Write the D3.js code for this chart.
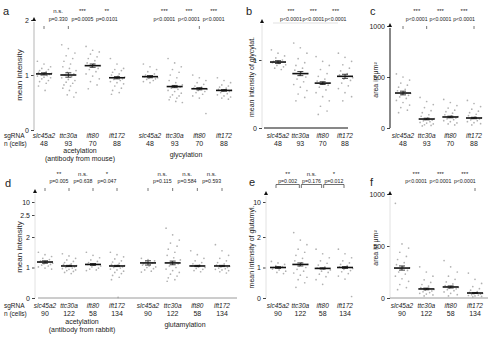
<!DOCTYPE html>
<html>
<head>
<meta charset="utf-8">
<script src="https://cdn.jsdelivr.net/npm/d3@7"></script>
<style>
  body { margin: 0; background: #fff; }
  text { font-family: "Liberation Sans", Arial, sans-serif; fill: #222; }
</style>
</head>
<body>
<div id="fig"></div>
<script>
// ---- data ----
var genes = ['slc45a2', 'ttc30a', 'ift80', 'ift172'];
var nTop = [48, 93, 70, 88];
var nBottom = [90, 122, 58, 134];

// a: acetylation (mouse antibody) and glycylation, mean intensity
var aAcetMeans = [1.02, 1.0, 1.17, 0.95];
var aAcetSem = [0.02, 0.04, 0.03, 0.02];
var aAcetPoints = [
  [1.25, 1.2, 1.15, 1.12, 1.1, 1.08, 1.06, 1.05, 1.04, 1.03, 1.02, 1.01, 1.0, 0.99, 0.98, 0.96, 0.95, 0.93, 0.9, 0.88, 0.85, 0.8, 0.72],
  [1.55, 1.48, 1.4, 1.35, 1.3, 1.25, 1.2, 1.15, 1.12, 1.08, 1.05, 1.02, 1.0, 0.97, 0.95, 0.92, 0.9, 0.87, 0.85, 0.82, 0.8, 0.76, 0.72, 0.68, 0.64, 0.6],
  [1.52, 1.45, 1.42, 1.38, 1.33, 1.3, 1.26, 1.22, 1.2, 1.17, 1.15, 1.12, 1.1, 1.06, 1.02, 0.98, 0.93, 0.88, 0.82, 0.75],
  [1.3, 1.2, 1.12, 1.1, 1.08, 1.05, 1.02, 1.0, 0.98, 0.96, 0.95, 0.93, 0.92, 0.9, 0.88, 0.86, 0.84, 0.8, 0.76, 0.72, 0.68, 0.65]
];
var aGlyMeans = [0.97, 0.79, 0.75, 0.72];
var aGlySem = [0.02, 0.02, 0.02, 0.015];
var aGlyPoints = [
  [1.2, 1.15, 1.1, 1.06, 1.02, 1.0, 0.98, 0.97, 0.96, 0.95, 0.94, 0.93, 0.92, 0.9, 0.88, 0.86],
  [1.3, 1.22, 1.15, 1.1, 1.05, 1.0, 0.95, 0.9, 0.86, 0.82, 0.8, 0.78, 0.76, 0.74, 0.72, 0.7, 0.67, 0.64, 0.62, 0.6, 0.58, 0.55, 0.52, 0.5],
  [1.0, 0.95, 0.9, 0.86, 0.83, 0.8, 0.78, 0.76, 0.75, 0.74, 0.72, 0.7, 0.68, 0.65, 0.62, 0.58, 0.3],
  [0.95, 0.9, 0.86, 0.82, 0.8, 0.78, 0.76, 0.74, 0.73, 0.72, 0.71, 0.7, 0.68, 0.66, 0.64, 0.62, 0.6, 0.58, 0.56]
];
var aAcetStars = ['n.s.', '***', '**'];
var aAcetP = ['p=0.330', 'p=0.0005', 'p=0.0101'];
var aGlyStars = ['***', '***', '***'];
var aGlyP = ['p<0.0001', 'p<0.0001', 'p<0.0001'];

// b: mean intensity of glycylation
var bMeans = [0.97, 0.8, 0.66, 0.76];
var bSem = [0.02, 0.03, 0.02, 0.03];
var bPoints = [
  [1.15, 1.1, 1.06, 1.03, 1.0, 0.98, 0.97, 0.96, 0.95, 0.93, 0.92, 0.9, 0.88, 0.86],
  [1.25, 1.18, 1.1, 1.02, 0.96, 0.92, 0.88, 0.85, 0.82, 0.8, 0.78, 0.75, 0.72, 0.68, 0.64, 0.6, 0.55, 0.5, 0.45, 0.4],
  [1.05, 0.98, 0.92, 0.86, 0.8, 0.76, 0.72, 0.69, 0.67, 0.66, 0.65, 0.63, 0.6, 0.56, 0.52, 0.46, 0.4, 0.32, 0.25, 0.2],
  [1.1, 1.04, 0.98, 0.93, 0.88, 0.84, 0.8, 0.78, 0.76, 0.74, 0.72, 0.7, 0.66, 0.62, 0.58, 0.52, 0.46, 0.4]
];
var bStars = ['***', '***', '***'];
var bP = ['p<0.0001', 'p<0.0001', 'p<0.0001'];

// c: cilia area in um^2
var cMeans = [343, 88, 108, 98];
var cSem = [18, 8, 8, 7];
var cPoints = [
  [530, 500, 470, 440, 420, 400, 380, 365, 350, 340, 330, 320, 305, 290, 270, 250, 225, 200, 175, 150],
  [300, 260, 230, 200, 170, 150, 130, 115, 100, 92, 85, 78, 70, 62, 55, 48, 40, 32, 25, 20],
  [280, 250, 220, 195, 175, 160, 145, 130, 120, 112, 105, 98, 90, 82, 72, 62, 50, 40, 30],
  [270, 240, 210, 185, 165, 150, 135, 122, 110, 100, 95, 88, 80, 72, 62, 52, 42, 30]
];
var cStars = ['***', '***', '***'];
var cP = ['p<0.0001', 'p<0.0001', 'p<0.0001'];

// d: acetylation (rabbit antibody) and glutamylation, mean intensity
var dAcetMeans = [1.18, 1.05, 1.1, 1.05];
var dAcetSem = [0.04, 0.02, 0.03, 0.02];
var dAcetPoints = [
  [1.5, 1.42, 1.36, 1.3, 1.26, 1.22, 1.2, 1.18, 1.16, 1.14, 1.12, 1.1, 1.08, 1.05, 1.02, 0.98, 0.95],
  [1.45, 1.38, 1.3, 1.25, 1.2, 1.16, 1.12, 1.1, 1.08, 1.06, 1.04, 1.02, 1.0, 0.98, 0.96, 0.94, 0.92, 0.9, 0.87, 0.84, 0.8],
  [1.5, 1.4, 1.32, 1.25, 1.2, 1.16, 1.12, 1.1, 1.08, 1.05, 1.02, 0.98, 0.95, 0.92, 0.9],
  [1.5, 1.42, 1.35, 1.28, 1.22, 1.18, 1.14, 1.1, 1.08, 1.06, 1.04, 1.02, 1.0, 0.98, 0.95, 0.92, 0.88, 0.84, 0.8, 0.74, 0.68, 0.6, 0.02]
];
var dGluMeans = [1.15, 1.15, 1.05, 1.05];
var dGluSem = [0.07, 0.06, 0.02, 0.02];
var dGluPoints = [
  [1.3, 1.26, 1.22, 1.18, 1.15, 1.12, 1.1, 1.08, 1.05, 1.02, 1.0, 0.96, 0.92, 0.88, 0.85],
  [2.2, 2.05, 1.9, 1.8, 1.7, 1.6, 1.5, 1.4, 1.32, 1.25, 1.18, 1.12, 1.05, 1.0, 0.95, 0.9, 0.84, 0.78, 0.72, 0.66, 0.6, 0.55],
  [1.55, 1.42, 1.3, 1.22, 1.16, 1.12, 1.08, 1.05, 1.02, 1.0, 0.97, 0.94, 0.9, 0.86],
  [1.75, 1.55, 1.4, 1.3, 1.22, 1.16, 1.12, 1.08, 1.06, 1.04, 1.02, 1.0, 0.98, 0.96, 0.94, 0.92, 0.9, 0.86, 0.82]
];
var dAcetStars = ['**', 'n.s.', '*'];
var dAcetP = ['p=0.005', 'p=0.638', 'p=0.047'];
var dGluStars = ['n.s.', 'n.s.', 'n.s.'];
var dGluP = ['p=0.115', 'p=0.584', 'p=0.593'];

// e: mean intensity of glutamylation
var eMeans = [1.0, 1.1, 0.97, 1.0];
var eSem = [0.03, 0.05, 0.02, 0.03];
var ePoints = [
  [1.2, 1.15, 1.1, 1.06, 1.03, 1.0, 0.98, 0.95, 0.92, 0.88, 0.84, 0.8],
  [2.1, 1.9, 1.75, 1.6, 1.5, 1.4, 1.3, 1.22, 1.15, 1.1, 1.05, 1.0, 0.94, 0.88, 0.82, 0.75, 0.68, 0.6, 0.5, 0.35],
  [1.6, 1.45, 1.32, 1.22, 1.14, 1.08, 1.02, 0.98, 0.95, 0.92, 0.88, 0.84, 0.78, 0.7, 0.6, 0.45],
  [1.6, 1.45, 1.32, 1.22, 1.15, 1.1, 1.06, 1.02, 1.0, 0.97, 0.94, 0.9, 0.86, 0.8, 0.72, 0.62, 0.05]
];
var eStars = ['**', 'n.s.', '*'];
var eP = ['p=0.002', 'p=0.176', 'p=0.012'];

// f: cilia area in um^2
var fMeans = [288, 87, 106, 48];
var fSem = [20, 8, 10, 5];
var fPoints = [
  [910, 520, 480, 440, 400, 370, 340, 320, 300, 290, 280, 265, 250, 230, 210, 185, 160, 130, 100, 80],
  [300, 250, 210, 175, 150, 130, 115, 100, 90, 82, 75, 68, 60, 52, 45, 38, 30, 20],
  [360, 300, 250, 210, 180, 155, 135, 120, 110, 102, 95, 88, 80, 70, 58, 45, 32, 20],
  [240, 180, 140, 110, 90, 75, 62, 55, 50, 45, 40, 36, 32, 28, 24, 20, 15, 10]
];
var fStars = ['***', '***', '***'];
var fP = ['p<0.0001', 'p<0.0001', 'p<0.0001'];

// ---- drawing ----
var svg = d3.select('#fig')
  .append('svg')
  .attr('width', 500)
  .attr('height', 339);

var fmt = d3.format('');

function yAxis(axisX, y, ticks, top, lineColor) {
  var g = svg.append('g').attr('transform', 'translate(' + axisX + ',0)');
  var ax = g.call(d3.axisLeft(y).tickValues(ticks).tickSize(3).tickPadding(2).tickFormat(fmt));
  ax.select('.domain').remove();
  ax.selectAll('.tick line').attr('stroke', '#444');
  ax.selectAll('.tick text').attr('font-size', 7).attr('fill', '#222')
    .style('font-family', '"Liberation Sans", Arial, sans-serif');
  if (lineColor) {
    g.append('line')
      .attr('x1', 0).attr('x2', 0)
      .attr('y1', top + 2).attr('y2', y(0))
      .attr('stroke', lineColor).attr('stroke-width', 1);
  }
  // arrow head on top of the axis
  g.append('path')
    .attr('d', 'M0,' + (top - 3) + 'L-2,' + (top + 1) + 'L2,' + (top + 1) + 'Z')
    .attr('fill', '#111');
}

function yLabel(x, yMid, txt, size) {
  svg.append('text')
    .attr('transform', 'translate(' + x + ',' + yMid + ') rotate(-90)')
    .attr('text-anchor', 'middle')
    .attr('font-size', size || 7)
    .text(txt);
}

function dots(x, y, points) {
  points.forEach(function(vals, gi) {
    svg.append('g').selectAll('circle')
      .data(vals)
      .enter().append('circle')
      .attr('cx', function(d, i) {
        return x(genes[gi]) + ((i * 3) % 7 - 3) * 2.2 + (Math.floor(i / 7) % 2) * 1.1;
      })
      .attr('cy', function(d) { return y(d); })
      .attr('r', 0.85)
      .attr('fill', '#a3a3a3')
      .attr('opacity', 0.85);
  });
}

function meanBars(x, y, means, sem) {
  var g = svg.append('g').attr('stroke', '#111');
  means.forEach(function(m, i) {
    var cx = x(genes[i]);
    g.append('line')
      .attr('x1', cx).attr('x2', cx)
      .attr('y1', y(m - sem[i])).attr('y2', y(m + sem[i]))
      .attr('stroke-width', 0.8);
    [m - sem[i], m + sem[i]].forEach(function(v) {
      g.append('line')
        .attr('x1', cx - 3).attr('x2', cx + 3)
        .attr('y1', y(v)).attr('y2', y(v))
        .attr('stroke-width', 0.8);
    });
    g.append('line')
      .attr('x1', cx - 8).attr('x2', cx + 8)
      .attr('y1', y(m)).attr('y2', y(m))
      .attr('stroke-width', 1.6);
  });
}

function stats(x, stars, pvals, starY, pY) {
  var step = x.step();
  stars.forEach(function(s, i) {
    var cx = x(genes[i + 1]) - step * 0.42;
    svg.append('text').attr('x', cx).attr('y', starY)
      .attr('text-anchor', 'middle').attr('font-size', 6).text(s);
    svg.append('text').attr('x', cx).attr('y', pY)
      .attr('text-anchor', 'middle').attr('font-size', 5.2).text(pvals[i]);
  });
}

function ticksAt(x, which, y0) {
  which.forEach(function(gn) {
    svg.append('line')
      .attr('x1', x(gn)).attr('x2', x(gn))
      .attr('y1', y0).attr('y2', y0 + 3)
      .attr('stroke', '#555').attr('stroke-width', 0.8);
  });
}

function catLabels(x, ns, yCat, yN) {
  genes.forEach(function(gn, i) {
    svg.append('text').attr('x', x(gn)).attr('y', yCat)
      .attr('text-anchor', 'middle').attr('font-size', 6.5)
      .style('font-style', 'italic').text(gn);
    svg.append('text').attr('x', x(gn)).attr('y', yN)
      .attr('text-anchor', 'middle').attr('font-size', 7).text(ns[i]);
  });
}

function rowHeads(yCat, yN) {
  svg.append('text').attr('x', 4).attr('y', yCat).attr('font-size', 6.5).text('sgRNA');
  svg.append('text').attr('x', 4).attr('y', yN).attr('font-size', 6.5).text('n (cells)');
}

function panelLetter(x, y, l) {
  svg.append('text').attr('x', x).attr('y', y).attr('font-size', 11).text(l);
}

function groupText(x, y, lines) {
  lines.forEach(function(t, i) {
    svg.append('text').attr('x', x).attr('y', y + i * 8)
      .attr('text-anchor', 'middle').attr('font-size', 7).text(t);
  });
}

// panel a
var yA = d3.scaleLinear().domain([0, 2]).range([130, 20]);
var xAacet = d3.scalePoint().domain(genes).range([44, 117]);
var xAgly = d3.scalePoint().domain(genes).range([150, 224]);
panelLetter(3, 15, 'a');
yAxis(34, yA, [0, 1, 2], 20, '#b5b5b5');
yLabel(22, 75, 'mean intensity', 8);
dots(xAacet, yA, aAcetPoints);
dots(xAgly, yA, aGlyPoints);
meanBars(xAacet, yA, aAcetMeans, aAcetSem);
meanBars(xAgly, yA, aGlyMeans, aGlySem);
stats(xAacet, aAcetStars, aAcetP, 13, 21);
stats(xAgly, aGlyStars, aGlyP, 13, 21);
ticksAt(xAacet, ['slc45a2', 'ttc30a'], 26);
ticksAt(xAgly, ['ift80'], 26);
rowHeads(138, 146);
catLabels(xAacet, nTop, 138, 146);
catLabels(xAgly, nTop, 138, 146);
groupText(80, 153, ['acetylation', '(antibody from mouse)']);
groupText(186, 157, ['glycylation']);

// panel b
var yB = d3.scaleLinear().domain([0, 1.5]).range([128, 26]);
var xB = d3.scalePoint().domain(genes).range([278, 345]);
panelLetter(246, 15, 'b');
yAxis(262, yB, [0, 1], 22, '#e2e2e2');
svg.append('line').attr('x1', 264).attr('x2', 348).attr('y1', yB(0)).attr('y2', yB(0))
  .attr('stroke', '#111').attr('stroke-width', 1);
yLabel(254, 77, 'mean intensity of glycylat.');
dots(xB, yB, bPoints);
meanBars(xB, yB, bMeans, bSem);
stats(xB, bStars, bP, 13, 21);
svg.append('line').attr('x1', 273).attr('x2', 338).attr('y1', 23).attr('y2', 23)
  .attr('stroke', '#ccc').attr('stroke-width', 0.6);
catLabels(xB, nTop, 138, 146);

// panel c
var yC = d3.scaleLinear().domain([0, 1000]).range([128, 26]);
var xC = d3.scalePoint().domain(genes).range([403, 474]);
panelLetter(370, 15, 'c');
yAxis(390, yC, [0, 500, 1000], 26, '#111');
yLabel(378, 80, 'area in \u03bcm\u00b2');
dots(xC, yC, cPoints);
meanBars(xC, yC, cMeans, cSem);
stats(xC, cStars, cP, 13, 21);
ticksAt(xC, ['slc45a2', 'ttc30a', 'ift172'], 26);
catLabels(xC, nTop, 138, 146);

// panels d and e share a broken intensity axis
var yD = d3.scaleLinear().domain([0, 2, 2.5, 10]).range([298, 237, 215, 202]);

// panel d
var xDacet = d3.scalePoint().domain(genes).range([45, 117]);
var xDglu = d3.scalePoint().domain(genes).range([148, 222]);
panelLetter(5, 187, 'd');
yAxis(35, yD, [0, 1, 2, 2.5, 10], 192, '#e2e2e2');
svg.append('line').attr('x1', 38).attr('x2', 237).attr('y1', yD(0)).attr('y2', yD(0))
  .attr('stroke', '#9a9a9a').attr('stroke-width', 1);
yLabel(22, 247, 'mean intensity', 8);
dots(xDacet, yD, dAcetPoints);
dots(xDglu, yD, dGluPoints);
meanBars(xDacet, yD, dAcetMeans, dAcetSem);
meanBars(xDglu, yD, dGluMeans, dGluSem);
stats(xDacet, dAcetStars, dAcetP, 176, 183);
stats(xDglu, dGluStars, dGluP, 176, 183);
ticksAt(xDacet, genes, 188);
ticksAt(xDglu, genes, 188);
rowHeads(308, 316);
catLabels(xDacet, nBottom, 308, 316);
catLabels(xDglu, nBottom, 308, 316);
groupText(82, 324, ['acetylation', '(antibody from rabbit)']);
groupText(185, 327, ['glutamylation']);

// panel e
var xE = d3.scalePoint().domain(genes).range([278, 345]);
panelLetter(249, 186, 'e');
yAxis(266, yD, [0, 1, 2, 10], 194, '#e2e2e2');
yLabel(254, 247, 'mean intensity of glutamyl.');
dots(xE, yD, ePoints);
meanBars(xE, yD, eMeans, eSem);
// brackets between neighbouring genes
eStars.forEach(function(s, i) {
  var x0 = xE(genes[i]) - (i === 0 ? 3 : 0), x1 = xE(genes[i + 1]);
  var mid = (x0 + x1) / 2;
  svg.append('path')
    .attr('d', 'M' + (x0 + 1) + ',188V184.5H' + (x1 - 1) + 'V188')
    .attr('fill', 'none').attr('stroke', '#333').attr('stroke-width', 0.7);
  svg.append('text').attr('x', mid).attr('y', 176)
    .attr('text-anchor', 'middle').attr('font-size', 6).text(s);
  svg.append('text').attr('x', mid).attr('y', 182.5)
    .attr('text-anchor', 'middle').attr('font-size', 5.2).text(eP[i]);
});
catLabels(xE, nBottom, 308, 316);

// panel f
var yF = d3.scaleLinear().domain([0, 1000]).range([298, 194]);
var xF = d3.scalePoint().domain(genes).range([402, 475]);
panelLetter(370, 186, 'f');
yAxis(390, yF, [0, 500, 1000], 194, '#e2e2e2');
svg.append('line').attr('x1', 390).attr('x2', 488).attr('y1', yF(0)).attr('y2', yF(0))
  .attr('stroke', '#9a9a9a').attr('stroke-width', 1);
yLabel(378, 248, 'area in \u03bcm\u00b2');
dots(xF, yF, fPoints);
meanBars(xF, yF, fMeans, fSem);
stats(xF, fStars, fP, 176, 183);
ticksAt(xF, ['ift172'], 188);
catLabels(xF, nBottom, 308, 316);
</script>
</body>
</html>
